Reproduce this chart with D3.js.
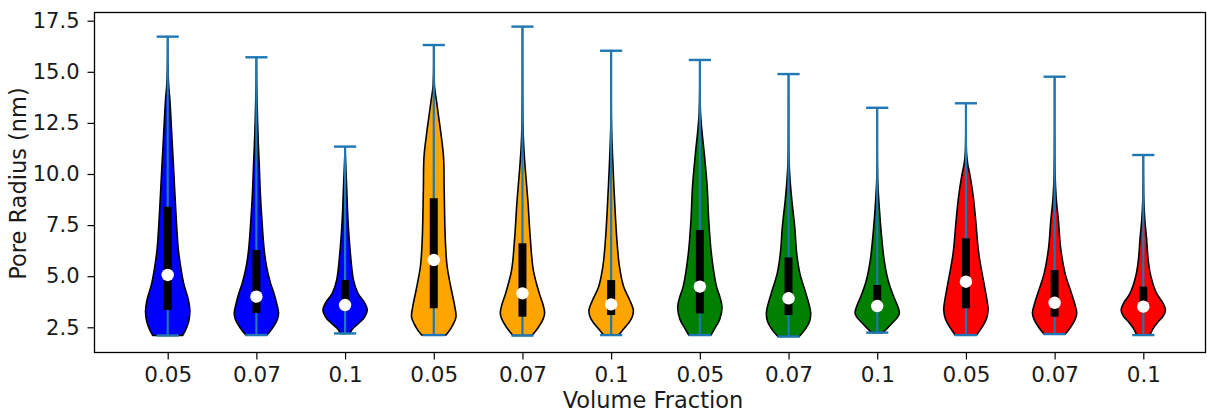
<!DOCTYPE html>
<html>
<head>
<meta charset="utf-8">
<script src="https://cdn.jsdelivr.net/npm/d3@7"></script>
<style>
  html, body { margin: 0; padding: 0; background: #fff; }
  svg { display: block; }
  text { font-family: "DejaVu Sans", sans-serif; fill: #1a1a1a; }
</style>
</head>
<body>
<svg id="chart" width="1207" height="413"></svg>
<script>
// ---------------- data ----------------
const categories = ["0.05","0.07","0.1","0.05","0.07","0.1","0.05","0.07","0.1","0.05","0.07","0.1"];
const positions = [1,2,3,4,5,6,7,8,9,10,11,12];
const yTicks = [2.5, 5.0, 7.5, 10.0, 12.5, 15.0, 17.5];

const mins    = [2.10, 2.12, 2.20, 2.12, 2.10, 2.12, 2.12, 2.05, 2.24, 2.12, 2.17, 2.12];
const maxs    = [16.72, 15.71, 11.34, 16.31, 17.21, 16.03, 15.58, 14.89, 13.24, 13.46, 14.76, 10.93];
const q1s     = [3.35, 3.20, 3.35, 3.43, 3.02, 3.10, 3.18, 3.10, 3.35, 3.43, 3.02, 3.35];
const medians = [5.06, 4.00, 3.59, 5.79, 4.16, 3.62, 4.49, 3.92, 3.54, 4.73, 3.70, 3.51];
const q3s     = [8.40, 6.28, 4.81, 8.81, 6.61, 4.81, 7.26, 5.92, 4.57, 6.85, 5.30, 4.49];

// relative density profile [value, density (max = 1)]
const densities = [
  [[2.10,0.67],[2.4,0.82],[2.8,0.95],[3.3,1.0],[3.8,0.94],[4.65,0.72],[5.5,0.58],[6.3,0.48],[7.9,0.38],[10.4,0.26],[12.0,0.18],[13.6,0.10],[14.4,0.04],[15.3,0.01],[16.72,0]],
  [[2.12,0.48],[2.5,0.75],[2.9,0.95],[3.2,1.0],[3.6,0.93],[4.2,0.78],[4.65,0.64],[5.4,0.47],[6.3,0.35],[7.9,0.24],[9.0,0.18],[10.4,0.13],[12.0,0.07],[13.6,0.03],[14.5,0.01],[15.71,0]],
  [[2.20,0.22],[2.4,0.32],[2.7,0.62],[3.0,0.88],[3.35,1.0],[3.7,0.88],[4.16,0.58],[4.81,0.38],[6.1,0.24],[7.75,0.13],[9.4,0.07],[10.7,0.02],[11.34,0]],
  [[2.12,0.55],[2.5,0.8],[3.0,1.0],[3.5,0.95],[4.3,0.8],[5.5,0.6],[6.8,0.52],[9.2,0.47],[10.85,0.44],[12.0,0.32],[12.8,0.22],[13.6,0.12],[14.2,0.04],[15.0,0.005],[16.31,0]],
  [[2.10,0.43],[2.5,0.72],[2.9,0.93],[3.2,1.0],[3.6,0.93],[4.16,0.76],[5.3,0.49],[6.9,0.35],[8.6,0.25],[10.2,0.13],[11.3,0.06],[12.5,0.02],[14.0,0.005],[17.21,0]],
  [[2.12,0.33],[2.4,0.55],[2.7,0.78],[3.0,0.95],[3.35,1.0],[3.8,0.85],[4.5,0.56],[5.5,0.37],[6.9,0.25],[8.6,0.16],[10.2,0.09],[11.8,0.03],[13.0,0.005],[16.03,0]],
  [[2.12,0.5],[2.4,0.65],[2.9,0.9],[3.5,1.0],[4.0,0.9],[4.5,0.75],[6.1,0.52],[7.75,0.4],[9.4,0.33],[11.0,0.2],[12.15,0.09],[13.0,0.03],[14.0,0.005],[15.58,0]],
  [[2.05,0.48],[2.4,0.75],[2.8,0.95],[3.2,1.0],[3.6,0.93],[4.16,0.78],[5.14,0.51],[6.1,0.37],[7.4,0.28],[8.7,0.15],[9.7,0.07],[10.7,0.02],[12.0,0.005],[14.89,0]],
  [[2.24,0.25],[2.45,0.45],[2.7,0.67],[3.0,0.92],[3.2,1.0],[3.6,0.9],[4.0,0.74],[4.8,0.49],[5.8,0.31],[6.9,0.2],[8.4,0.09],[9.5,0.03],[10.5,0.005],[13.24,0]],
  [[2.12,0.48],[2.5,0.72],[2.9,0.92],[3.35,1.0],[3.9,0.94],[4.5,0.84],[6.1,0.58],[7.75,0.44],[8.9,0.33],[9.9,0.19],[10.5,0.08],[11.0,0.03],[12.0,0.005],[13.46,0]],
  [[2.17,0.48],[2.5,0.72],[2.9,0.93],[3.2,1.0],[3.6,0.92],[4.16,0.76],[5.14,0.47],[6.4,0.27],[7.75,0.17],[8.7,0.08],[9.7,0.03],[11.0,0.005],[14.76,0]],
  [[2.12,0.3],[2.4,0.42],[2.77,0.67],[3.05,0.9],[3.35,1.0],[3.7,0.88],[4.16,0.6],[5.0,0.34],[5.8,0.22],[6.8,0.15],[7.75,0.07],[8.8,0.02],[9.8,0.005],[10.93,0]]
];

// ---------------- styles ----------------
const groupColors = ["#0000ff","#0000ff","#0000ff","#ffa500","#ffa500","#ffa500","#008000","#008000","#008000","#ff0000","#ff0000","#ff0000"];
const lineColor = "#1f77b4";

// ---------------- layout ----------------
const plot = { left: 94.5, right: 1205.5, top: 12.5, bottom: 352.5 };
const x = d3.scaleLinear().domain([1, 12]).range([167.7, 1143.3]);
const y = d3.scaleLinear().domain([2.5, 17.5]).range([327.3, 20.7]);
const violinHalf = 0.25;  // half width in position units at max density
const capHalf = 0.125;

const svg = d3.select("#chart");

// violins
const g = svg.append("g");
positions.forEach((p, i) => {
  const area = d3.area()
    .curve(d3.curveCatmullRom.alpha(0.5))
    .y(d => y(d[0]))
    .x0(d => x(p - violinHalf * d[1]))
    .x1(d => x(p + violinHalf * d[1]));
  g.append("path")
    .attr("d", area(densities[i]))
    .attr("fill", groupColors[i])
    .attr("stroke", "#000")
    .attr("stroke-width", 1.6)
    .attr("stroke-linejoin", "round");
});

// bars and caps
positions.forEach((p, i) => {
  g.append("line")
    .attr("x1", x(p)).attr("x2", x(p))
    .attr("y1", y(mins[i])).attr("y2", y(maxs[i]))
    .attr("stroke", lineColor).attr("stroke-width", 2.2);
  [mins[i], maxs[i]].forEach(v => {
    g.append("line")
      .attr("x1", x(p - capHalf)).attr("x2", x(p + capHalf))
      .attr("y1", y(v)).attr("y2", y(v))
      .attr("stroke", lineColor).attr("stroke-width", 2.4);
  });
});

// IQR boxes and medians
positions.forEach((p, i) => {
  g.append("line")
    .attr("x1", x(p)).attr("x2", x(p))
    .attr("y1", y(q1s[i])).attr("y2", y(q3s[i]))
    .attr("stroke", "#000").attr("stroke-width", 8);
  g.append("circle")
    .attr("cx", x(p)).attr("cy", y(medians[i]))
    .attr("r", 6.2)
    .attr("fill", "#fff");
});

// axes frame
svg.append("rect")
  .attr("x", plot.left).attr("y", plot.top)
  .attr("width", plot.right - plot.left).attr("height", plot.bottom - plot.top)
  .attr("fill", "none").attr("stroke", "#000").attr("stroke-width", 1.3);

// x axis
const xAxis = d3.axisBottom(x)
  .tickValues(positions)
  .tickFormat((d, i) => categories[i])
  .tickSize(7).tickPadding(7);
const xg = svg.append("g").attr("transform", `translate(0,${plot.bottom})`).call(xAxis);
xg.select(".domain").remove();
xg.selectAll(".tick line").attr("stroke", "#000").attr("stroke-width", 1.2);
xg.selectAll(".tick text").attr("font-size", 21.5).attr("font-family", "DejaVu Sans").attr("fill", "#1a1a1a");

// y axis
const yAxis = d3.axisLeft(y)
  .tickValues(yTicks)
  .tickFormat(d3.format(".1f"))
  .tickSize(7).tickPadding(8);
const yg = svg.append("g").attr("transform", `translate(${plot.left},0)`).call(yAxis);
yg.select(".domain").remove();
yg.selectAll(".tick line").attr("stroke", "#000").attr("stroke-width", 1.2);
yg.selectAll(".tick text").attr("font-size", 21).attr("font-family", "DejaVu Sans").attr("fill", "#1a1a1a");

// axis labels
svg.append("text")
  .attr("x", (plot.left + plot.right) / 2 + 3)
  .attr("y", 408)
  .attr("text-anchor", "middle")
  .attr("font-size", 22.5)
  .text("Volume Fraction");
svg.append("text")
  .attr("transform", `translate(25.5,${(plot.top + plot.bottom) / 2 + 1}) rotate(-90)`)
  .attr("text-anchor", "middle")
  .attr("font-size", 22.5)
  .text("Pore Radius (nm)");
</script>
</body>
</html>
